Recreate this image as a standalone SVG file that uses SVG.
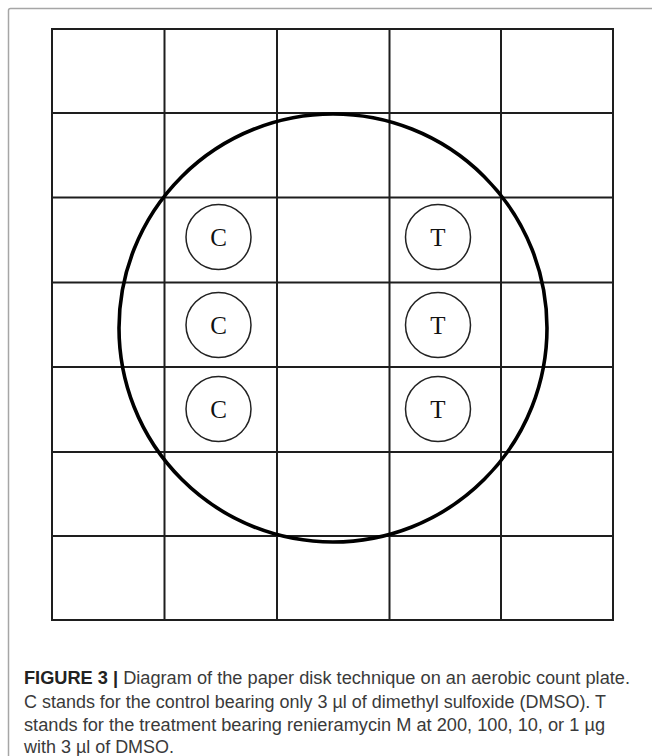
<svg xmlns="http://www.w3.org/2000/svg" width="652" height="756" viewBox="0 0 652 756">
<style>
.grid{stroke:#1e1e1e;stroke-width:2;fill:none}
.plate{stroke:#000;stroke-width:3.6;fill:none}
.disk{stroke:#222;stroke-width:1.5;fill:none}
.lbl{font-family:"Liberation Serif","Times New Roman",serif;font-size:25px;fill:#111;text-anchor:middle}
.cap{font-family:"Liberation Sans",Arial,sans-serif;font-size:17.5px;fill:#3a3a3a}
.capb{font-weight:bold;fill:#222}
</style>
<rect width="652" height="756" fill="#fff"/>
<rect x="8.5" y="8.5" width="700" height="800" rx="2" fill="none" stroke="#a6a6a6" stroke-width="1.5"/>
<g id="grid" class="grid">
<rect x="52" y="29" width="561" height="591"/>
<line x1="164.5" y1="29" x2="164.5" y2="620"/>
<line x1="277" y1="29" x2="277" y2="620"/>
<line x1="389.5" y1="29" x2="389.5" y2="620"/>
<line x1="501" y1="29" x2="501" y2="620"/>
<line x1="52" y1="113" x2="613" y2="113"/>
<line x1="52" y1="197.5" x2="613" y2="197.5"/>
<line x1="52" y1="282.5" x2="613" y2="282.5"/>
<line x1="52" y1="367" x2="613" y2="367"/>
<line x1="52" y1="452" x2="613" y2="452"/>
<line x1="52" y1="536" x2="613" y2="536"/>
</g>
<g id="plate"><circle class="plate" cx="333" cy="328" r="214"/></g>
<g id="c1"><circle class="disk" cx="218.5" cy="237" r="32.5"/><text class="lbl" x="218.5" y="246">C</text></g>
<g id="c2"><circle class="disk" cx="218.5" cy="325" r="32.5"/><text class="lbl" x="218.5" y="334">C</text></g>
<g id="c3"><circle class="disk" cx="218.5" cy="409" r="32.5"/><text class="lbl" x="218.5" y="418">C</text></g>
<g id="t1"><circle class="disk" cx="438" cy="237" r="32.5"/><text class="lbl" x="438" y="246">T</text></g>
<g id="t2"><circle class="disk" cx="438" cy="325" r="32.5"/><text class="lbl" x="438" y="334">T</text></g>
<g id="t3"><circle class="disk" cx="438" cy="409" r="32.5"/><text class="lbl" x="438" y="418">T</text></g>
<g id="caption" class="cap">
<text x="24" y="684" textLength="606" lengthAdjust="spacingAndGlyphs"><tspan class="capb">FIGURE 3 |</tspan> Diagram of the paper disk technique on an aerobic count plate.</text>
<text x="24" y="708" textLength="582" lengthAdjust="spacingAndGlyphs">C stands for the control bearing only 3 µl of dimethyl sulfoxide (DMSO). T</text>
<text x="24" y="731" textLength="581" lengthAdjust="spacingAndGlyphs">stands for the treatment bearing renieramycin M at 200, 100, 10, or 1 µg</text>
<text x="24" y="753" textLength="150" lengthAdjust="spacingAndGlyphs">with 3 µl of DMSO.</text>
</g>
</svg>
